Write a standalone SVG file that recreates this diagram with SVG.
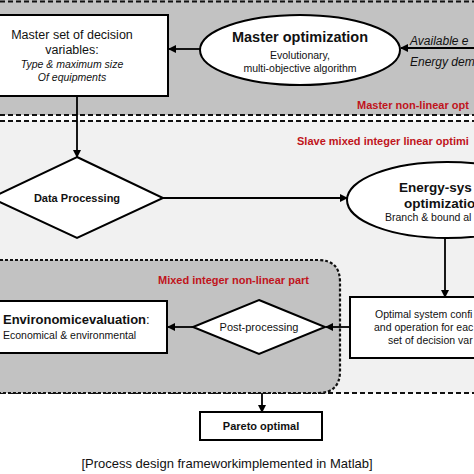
<svg xmlns="http://www.w3.org/2000/svg" width="474" height="474" viewBox="0 0 474 474">
<style>
.box{fill:#fff;stroke:#000;stroke-width:2}
.dash{fill:none;stroke:#111;stroke-width:2;stroke-dasharray:5 3}
.dot{stroke:#111;stroke-width:2.2;stroke-dasharray:3 2}
.ln{fill:none;stroke:#000;stroke-width:1.8}
.t{font-family:"Liberation Sans",Arial,sans-serif;fill:#111}
.red{font-family:"Liberation Sans",Arial,sans-serif;fill:#c0141c;font-weight:bold;font-size:11px}
</style>
<defs>
<marker id="ah" markerWidth="8" markerHeight="8" refX="7" refY="4" orient="auto" markerUnits="userSpaceOnUse">
<path d="M0,0 L8,4 L0,8 Z" fill="#000"/>
</marker>
</defs>
<rect width="474" height="474" fill="#fff"/>
<g id="master-region">
<rect x="-5" y="0" width="484" height="115" fill="#c2c2c2"/>
<line x1="0" y1="1.5" x2="474" y2="1.5" class="dash"/>
<line x1="0" y1="115" x2="474" y2="115" class="dash"/>
<text x="357" y="109" class="red">Master non-linear opt</text>
</g>
<g id="slave-region">
<rect x="-5" y="121" width="484" height="272" fill="#f1f1f1"/>
<line x1="0" y1="121" x2="474" y2="121" class="dash"/>
<line x1="0" y1="393" x2="474" y2="393" class="dash"/>
<text x="297" y="145" class="red">Slave mixed integer linear optimi</text>
</g>
<g id="minlp-region">
<path d="M-5,260 H318 Q340,260 340,282 V371 Q340,393 318,393 H-5 Z" fill="#c2c2c2" class="dot"/>
<text x="158" y="284" class="red">Mixed integer non-linear part</text>
</g>
<g id="connectors">
<line x1="200" y1="49" x2="169" y2="49" class="ln" marker-end="url(#ah)"/>
<line x1="474" y1="48" x2="401" y2="48" class="ln" marker-end="url(#ah)"/>
<line x1="77" y1="96" x2="77" y2="157" class="ln" marker-end="url(#ah)"/>
<line x1="163" y1="198" x2="347" y2="198" class="ln" marker-end="url(#ah)"/>
<line x1="445" y1="238" x2="445" y2="297" class="ln" marker-end="url(#ah)"/>
<line x1="350" y1="327" x2="326" y2="327" class="ln" marker-end="url(#ah)"/>
<line x1="193" y1="327" x2="168" y2="327" class="ln" marker-end="url(#ah)"/>
<line x1="262" y1="393" x2="262" y2="412" class="ln" marker-end="url(#ah)"/>
</g>
<g id="master-set">
<rect x="-3" y="15" width="171" height="81" class="box"/>
<text class="t" font-size="12.5" text-anchor="middle"><tspan x="72" y="39">Master set of decision</tspan><tspan x="72" y="54">variables:</tspan></text>
<text class="t" font-size="10.5" font-style="italic" text-anchor="middle"><tspan x="72" y="68">Type &amp;  maximum size</tspan><tspan x="72" y="81">Of equipments</tspan></text>
</g>
<g id="master-opt">
<ellipse cx="300" cy="50" rx="100" ry="35" class="box"/>
<text x="300" y="42" class="t" font-size="14.5" font-weight="bold" text-anchor="middle">Master optimization</text>
<text class="t" font-size="10.5" text-anchor="middle"><tspan x="300" y="59">Evolutionary,</tspan><tspan x="300" y="72">multi-objective algorithm</tspan></text>
</g>
<g id="inputs">
<text class="t" font-size="12" font-style="italic"><tspan x="410" y="45">Available e</tspan><tspan x="410" y="66">Energy dem</tspan></text>
</g>
<g id="data-processing">
<path d="M77,157 L163,198 L77,238 L-9,198 Z" class="box"/>
<text x="77" y="202" class="t" font-size="11" font-weight="bold" text-anchor="middle">Data Processing</text>
</g>
<g id="energy-opt">
<ellipse cx="447" cy="200" rx="100" ry="38" class="box"/>
<text class="t" font-size="13.5" font-weight="bold"><tspan x="399" y="192">Energy-sys</tspan><tspan x="404" y="208">optimizatio</tspan></text>
<text x="385" y="221" class="t" font-size="10.5">Branch &amp; bound al</text>
</g>
<g id="optimal-config">
<rect x="350" y="297" width="140" height="61" class="box"/>
<text class="t" font-size="10.5"><tspan x="375" y="318">Optimal system confi</tspan><tspan x="374" y="331">and operation for eac</tspan><tspan x="388" y="344">set of decision var</tspan></text>
</g>
<g id="post-processing">
<path d="M259,300 L325,327 L259,354 L193,327 Z" class="box"/>
<text x="259" y="331" class="t" font-size="11" text-anchor="middle">Post-processing</text>
</g>
<g id="environomic">
<rect x="-3" y="301" width="170" height="52" class="box"/>
<text x="3" y="324" class="t" font-size="13"><tspan font-weight="bold">Environomicevaluation</tspan>:</text>
<text x="3" y="339" class="t" font-size="10.5">Economical &amp; environmental</text>
</g>
<g id="pareto">
<rect x="200" y="412" width="122" height="28" class="box"/>
<text x="261" y="430" class="t" font-size="11" font-weight="bold" text-anchor="middle">Pareto optimal</text>
</g>
<text x="227" y="468" class="t" font-size="13" fill="#222" text-anchor="middle">[Process design frameworkimplemented in Matlab]</text>
</svg>
